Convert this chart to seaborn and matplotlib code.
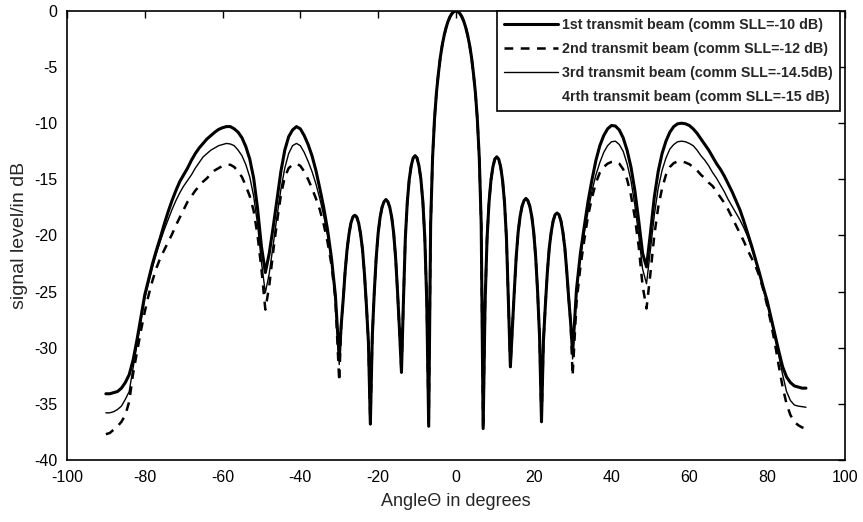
import numpy as np
import pandas as pd
import matplotlib
matplotlib.use("Agg")
import matplotlib.pyplot as plt
from matplotlib.lines import Line2D
import seaborn as sns

# ---------------- data ----------------
left_angles = list(range(-90, -29))          # -90 ... -30
inner_angles = [a / 2 for a in range(-59, 60)]  # -29.5 ... 29.5
right_angles = list(range(30, 91))           # 30 ... 90

# common inner part (all beams coincide there)
inner_left_db = [-28.0, -25.8, -23.3, -21.3, -19.9, -18.9, -18.35, -18.2, -18.35, -18.9,
                 -19.9, -21.3, -23.5, -26.3, -29.5, -36.8,
                 -29.0, -25.1, -22.0, -19.8, -18.4, -17.5, -17.0, -16.8, -17.0, -17.5,
                 -18.4, -19.8, -22.0, -25.1, -28.5, -32.2,
                 -25.9, -20.2, -17.0, -15.0, -13.8, -13.1, -12.9, -13.1, -13.8, -15.0,
                 -17.0, -20.2, -25.9, -37.0,
                 -19.0, -13.05, -9.6, -7.25, -5.55, -4.1, -3.0, -2.14, -1.45, -0.9,
                 -0.5, -0.22, -0.06]
inner_peak_db = [0.0]
inner_right_db = [-0.06, -0.22, -0.5, -0.9, -1.45, -2.14, -3.0, -4.1, -5.55, -7.25,
                  -9.6, -13.05, -19.0, -37.2,
                  -26.0, -20.3, -17.1, -15.1, -13.9, -13.2, -13.0, -13.2, -13.9, -15.1,
                  -17.1, -20.3, -26.0, -31.7,
                  -28.3, -25.0, -21.9, -19.7, -18.3, -17.4, -16.9, -16.7, -16.9, -17.4,
                  -18.3, -19.7, -21.9, -25.0, -29.0, -36.6,
                  -29.4, -26.2, -23.3, -21.1, -19.7, -18.7, -18.15, -18.0, -18.15, -18.7,
                  -19.7, -21.1, -23.2, -25.6, -27.8]

# 1st beam (thick solid)
beam1_left = [-34.1, -34.1, -34.0, -33.9, -33.6, -33.1, -32.4, -31.1, -29.3, -27.3,
              -25.3, -23.9, -22.5, -21.3, -20.2, -19.0, -17.9, -16.9, -16.0, -15.2,
              -14.6, -14.0, -13.3, -12.7, -12.2, -11.8, -11.4, -11.1, -10.8, -10.55,
              -10.4, -10.3, -10.3, -10.5, -10.8, -11.3, -12.1, -13.2, -14.9, -17.6,
              -21.0, -23.3, -21.6, -19.3, -16.8, -14.3, -12.4, -11.2, -10.6, -10.3,
              -10.5, -11.1, -11.9, -12.9, -14.2, -15.8, -17.5, -19.5, -22.0, -25.3,
              -31.0]
beam1_right = [-30.5, -24.8, -21.6, -19.2, -16.9, -15.0, -13.3, -12.0, -11.1, -10.5,
               -10.2, -10.25, -10.6, -11.3, -12.4, -13.9, -16.0, -18.7, -21.6, -22.8,
               -19.8, -16.6, -14.3, -12.7, -11.6, -10.8, -10.3, -10.05, -10.0, -10.05,
               -10.2, -10.5, -10.9, -11.4, -11.9, -12.4, -13.0, -13.6, -14.1, -14.7,
               -15.4, -16.1, -16.9, -17.7, -18.7, -19.8, -20.9, -22.1, -23.3, -24.6,
               -25.8, -27.3, -28.8, -30.3, -31.7, -32.6, -33.1, -33.4, -33.5, -33.6,
               -33.6]

# 2nd beam (dashed)
beam2_left = [-37.7, -37.6, -37.3, -37.0, -36.6, -36.0, -34.8, -32.3, -30.4, -28.5,
              -26.8, -25.3, -24.0, -22.9, -22.0, -21.3, -20.6, -19.9, -19.1, -18.4,
              -17.7, -17.0, -16.5, -16.0, -15.6, -15.2, -14.9, -14.5, -14.2, -14.0,
              -13.8, -13.7, -13.7, -13.9, -14.3, -14.8, -15.6, -16.5, -17.8, -20.0,
              -23.0, -26.6, -24.5, -21.5, -18.8, -16.4, -14.8, -14.0, -13.7, -13.6,
              -13.8, -14.3, -15.0, -15.8, -16.7, -17.7, -19.0, -20.6, -22.6, -25.6,
              -33.0]
beam2_right = [-32.5, -26.0, -22.8, -20.4, -18.2, -16.6, -15.3, -14.4, -13.9, -13.6,
               -13.45, -13.4, -13.6, -14.1, -15.0, -16.4, -18.4, -21.0, -24.5, -26.5,
               -23.4, -20.0, -17.5, -15.8, -14.6, -13.9, -13.55, -13.4, -13.4, -13.5,
               -13.65, -13.9, -14.2, -14.6, -14.9, -15.3, -15.6, -16.1, -16.6, -17.1,
               -17.7, -18.4, -19.1, -19.8, -20.5, -21.3, -22.0, -22.7, -23.6, -24.8,
               -26.2, -27.8, -29.6, -31.6, -33.5, -35.0, -36.0, -36.6, -36.9, -37.1,
               -37.2]

# 3rd beam (thin solid)
beam3_left = [-35.8, -35.8, -35.7, -35.5, -35.2, -34.6, -33.9, -31.8, -29.7, -27.6,
              -25.6, -24.2, -22.8, -21.6, -20.5, -19.5, -18.6, -17.7, -16.9, -16.2,
              -15.6, -15.1, -14.6, -14.0, -13.5, -13.0, -12.7, -12.4, -12.2, -12.0,
              -11.9, -11.8, -11.85, -12.0, -12.4, -12.9, -13.7, -14.8, -16.5, -19.0,
              -22.4, -25.1, -23.4, -20.9, -18.3, -15.9, -14.0, -12.7, -12.0, -11.8,
              -12.0, -12.6, -13.4, -14.3, -15.4, -16.7, -18.2, -20.0, -22.3, -25.5,
              -31.5]
beam3_right = [-31.0, -25.0, -22.0, -19.8, -17.8, -16.0, -14.6, -13.5, -12.6, -12.0,
               -11.65, -11.6, -11.9, -12.5, -13.6, -15.1, -17.3, -20.0, -23.0, -24.3,
               -21.3, -18.2, -15.8, -14.2, -13.1, -12.3, -11.9, -11.65, -11.6, -11.65,
               -11.8, -12.0, -12.4, -12.9, -13.3, -13.8, -14.4, -14.9, -15.5, -16.1,
               -16.8, -17.4, -18.0, -18.6, -19.3, -20.1, -21.1, -22.2, -23.4, -24.7,
               -26.0, -27.5, -29.1, -30.7, -32.4, -33.9, -34.7, -35.1, -35.2, -35.25,
               -35.3]

labels = ["1st transmit beam (comm SLL=-10 dB)",
          "2nd transmit beam (comm SLL=-12 dB)",
          "3rd transmit beam (comm SLL=-14.5dB)",
          "4rth transmit beam (comm SLL=-15 dB)"]

x_ticks = list(range(-100, 101, 20))
y_ticks = list(range(-40, 1, 5))

# ---------------- build table ----------------
angles = left_angles + inner_angles + right_angles
inner = inner_left_db + inner_peak_db + inner_right_db
series = {
    labels[0]: beam1_left + inner + beam1_right,
    labels[1]: beam2_left + inner + beam2_right,
    labels[2]: beam3_left + inner + beam3_right,
}
frames = [pd.DataFrame({"angle": angles, "level": v, "beam": k}) for k, v in series.items()]
df = pd.concat(frames, ignore_index=True)

# ---------------- plot ----------------
sns.set_theme(style="white")
plt.rcParams["font.family"] = ["Liberation Sans", "DejaVu Sans"]
plt.rcParams["axes.unicode_minus"] = False

fig = plt.figure(figsize=(8.63, 5.22), dpi=100)
ax = fig.add_axes([0.0776, 0.1188, 0.9014, 0.8602])

dash = (0, (3.5, 3.0))
styles = {
    labels[1]: dict(lw=1.8, ls=dash),
    labels[2]: dict(lw=1.0, ls="-"),
    labels[0]: dict(lw=2.2, ls="-"),
}
for name in [labels[1], labels[2], labels[0]]:
    sub = df[df["beam"] == name]
    sns.lineplot(data=sub, x="angle", y="level", ax=ax, color="black",
                 linewidth=styles[name]["lw"], linestyle=styles[name]["ls"],
                 sort=False, estimator=None, legend=False)

ax.set_xlim(-100, 100)
ax.set_ylim(-40, 0)
ax.set_xticks(x_ticks)
ax.set_yticks(y_ticks)
ax.tick_params(direction="in", top=True, right=True, length=5, width=1,
               labelsize=11.5, colors="black")
ax.tick_params(axis="x", pad=7)
ax.tick_params(axis="y", pad=7)
for s in ax.spines.values():
    s.set_color("black")
    s.set_linewidth(1.2)
ax.set_xlabel("Angle\u0398 in degrees", fontsize=13, labelpad=6)
ax.set_ylabel("signal level/in dB", fontsize=14, labelpad=4)

handles = [Line2D([], [], color="black", lw=2.2, ls="-"),
           Line2D([], [], color="black", lw=1.8, ls=dash),
           Line2D([], [], color="black", lw=1.0, ls="-"),
           Line2D([], [], color="none", lw=1.0)]
leg = ax.legend(handles, labels, loc="upper right", bbox_to_anchor=(0.994, 1.0),
                borderaxespad=0, fancybox=False, framealpha=1, edgecolor="black",
                handlelength=3.8, handletextpad=0.3, labelspacing=0.7,
                borderpad=0.5, prop={"size": 10.3, "weight": "bold"})
leg.get_frame().set_linewidth(1.2)

fig.savefig("out.png", dpi=100)
